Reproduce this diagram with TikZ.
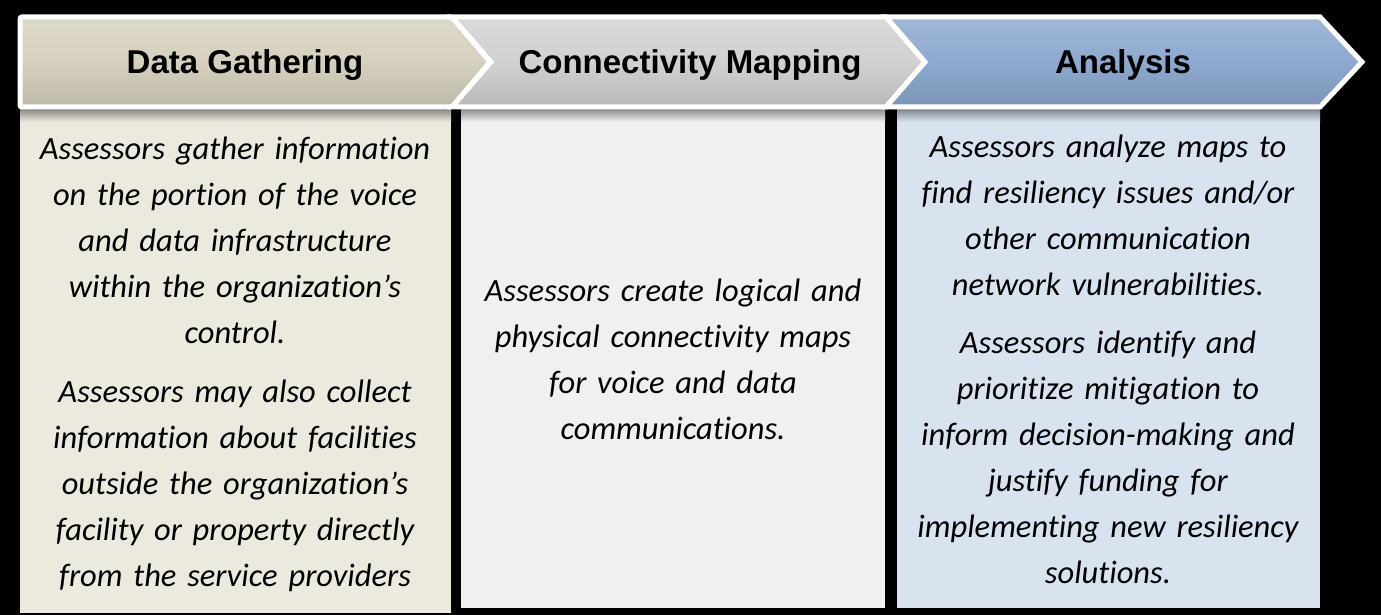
\documentclass[tikz,border=0pt]{standalone}
\usepackage{fontspec}
\setmainfont[Ligatures=NoCommon]{Carlito}
\newfontfamily\headfont{Liberation Sans}
\usetikzlibrary{positioning}

\definecolor{tanhead}{HTML}{D6D1BE}
\definecolor{tanbody}{HTML}{ECE9DF}
\definecolor{greyhead}{HTML}{D1D1D1}
\definecolor{greybody}{HTML}{F0F0F0}
\definecolor{bluehead}{HTML}{8DA9CF}
\definecolor{bluebody}{HTML}{D9E3F0}

\tikzset{
  chevron/.style={draw=white, line width=5pt, line join=miter,
    top color=#1!82!white, bottom color=#1!88!black, middle color=#1},
  panel/.style={fill=#1, draw=none},
  panelshade/.style={draw=none, top color=#1!55!black, bottom color=#1},
  headtext/.style={font=\headfont\bfseries\fontsize{33}{38}\selectfont},
  bodytext/.style={font=\itshape\fontsize{32.5}{46}\selectfont, align=center, text width=430pt},
}

\begin{document}
\begin{tikzpicture}[x=1pt,y=-1pt]
  % background
  \fill[black] (0,0) rectangle (1381,615);
  \useasboundingbox (0,0) rectangle (1381,615);

  % panels
  \fill[panel=tanbody] (20,108) rectangle (451,613);
  \fill[panel=greybody] (461,108) rectangle (885,608);
  \fill[panel=bluebody] (897,108) rectangle (1320,608);
  \shade[panelshade=tanbody] (20,108) rectangle (451,122);
  \shade[panelshade=greybody] (461,108) rectangle (885,122);
  \shade[panelshade=bluebody] (897,108) rectangle (1320,122);

  % headers
  \draw[chevron=tanhead, rounded corners=2pt] (20,17) -- (452,17) -- (490,62) -- (452,107) -- (20,107) -- cycle;
  \draw[chevron=greyhead] (452,17) -- (886,17) -- (925,62) -- (886,107) -- (452,107) -- (491,62) -- cycle;
  \draw[chevron=bluehead] (886,17) -- (1320,17) -- (1362,62) -- (1320,107) -- (886,107) -- (925,62) -- cycle;

  \node[headtext] (hGather) at (245,65) {Data Gathering};
  \node[headtext] (hMapping) at (690,65) {Connectivity Mapping};
  \node[headtext] (hAnalysis) at (1123,65) {Analysis};

  % panel texts
  \node[bodytext] (tGather) at (235,364) {Assessors gather information\\ on the portion of the voice\\ and data infrastructure\\ within the organization’s\\ control.\\[13pt]
    Assessors may also collect\\ information about facilities\\ outside the organization’s\\ facility or property directly\\ from the service providers};
  \node[bodytext] (tMapping) at (673,359) {Assessors create logical and\\ physical connectivity maps\\ for voice and data\\ communications.};
  \node[bodytext] (tAnalysis) at (1108,359) {Assessors analyze maps to\\ find resiliency issues and/or\\ other communication\\ network vulnerabilities.\\[12pt]
    Assessors identify and\\ prioritize mitigation to\\ inform decision-making and\\ justify funding for\\ implementing new resiliency\\ solutions.};
\end{tikzpicture}
\end{document}
